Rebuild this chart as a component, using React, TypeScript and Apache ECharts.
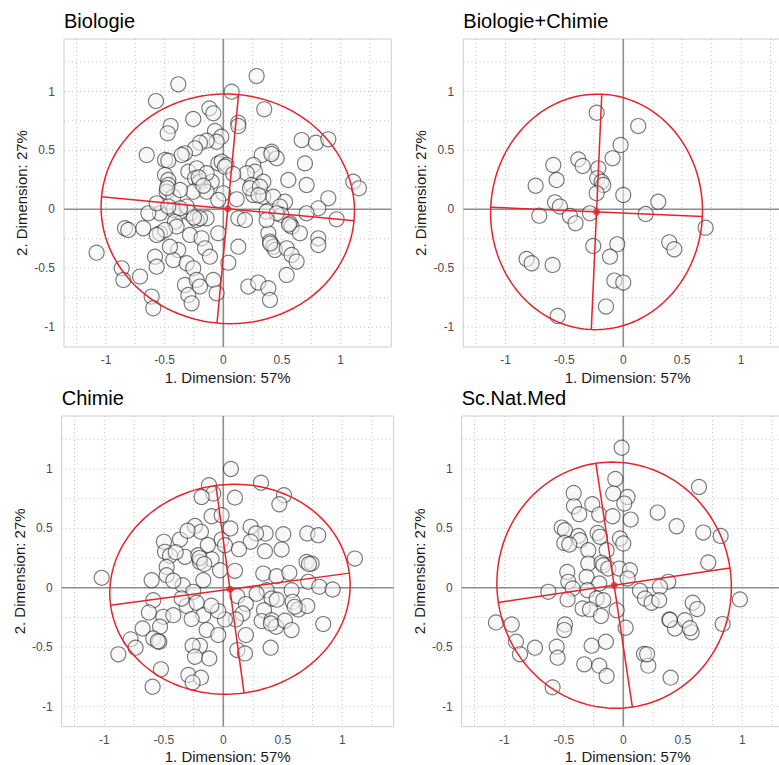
import React, { useEffect, useRef } from "react";
import * as echarts from "echarts";

// Shared axis ranges of the four facets
const X_MIN = -1.358;
const X_MAX = 1.432;
const Y_MIN = -1.169;
const Y_MAX = 1.446;

// Labelled ticks and dotted guide positions
const TICK_VALUES = [-1, -0.5, 0, 0.5, 1];
const GUIDE_VALUES = [-1.25, -1, -0.75, -0.5, -0.25, 0.25, 0.5, 0.75, 1, 1.25];

const PANEL_TITLES = ["Biologie", "Biologie+Chimie", "Chimie", "Sc.Nat.Med"];
const X_TITLE = "1. Dimension: 57%";
const Y_TITLE = "2. Dimension: 27%";

// Individual scores on dimensions 1 and 2
const biologiePoints: [number, number][] = [
  [0.284, 1.131], [-0.384, 1.061], [0.071, 0.999], [-0.574, 0.919], [0.349, 0.849], [-0.119, 0.857],
  [-0.085, 0.815], [-0.256, 0.767], [0.128, 0.736], [0.128, 0.707], [-0.449, 0.707], [-0.474, 0.645],
  [-0.071, 0.665], [-0.017, 0.617], [-0.057, 0.574], [-0.142, 0.583], [-0.199, 0.566], [-0.241, 0.518],
  [-0.327, 0.475], [-0.355, 0.461], [-0.653, 0.461], [-0.497, 0.419], [-0.469, 0.413], [0.668, 0.588],
  [0.79, 0.566], [0.895, 0.594], [0.412, 0.489], [0.327, 0.461], [0.455, 0.433], [0.696, 0.39],
  [-0.043, 0.39], [-0.014, 0.404], [0.028, 0.376], [0.014, 0.362], [0.256, 0.376], [0.27, 0.32],
  [0.199, 0.306], [0.085, 0.3], [-0.298, 0.32], [-0.227, 0.348], [-0.497, 0.291], [-0.469, 0.249],
  [-0.241, 0.263], [-0.199, 0.235], [-0.099, 0.235], [0.554, 0.249], [0.71, 0.207], [1.108, 0.235],
  [1.156, 0.178], [0.341, 0.235], [0.241, 0.207], [-0.469, 0.207], [-0.483, 0.15], [-0.426, 0.107],
  [-0.256, 0.15], [-0.142, 0.15], [0.0, 0.136], [-0.043, 0.079], [0.114, 0.085], [0.256, 0.122],
  [0.341, 0.107], [0.426, 0.107], [0.526, 0.065], [0.895, 0.093], [0.81, 0.008], [0.71, -0.034],
  [0.966, -0.085], [0.483, 0.023], [0.369, -0.02], [0.497, -0.048], [0.568, -0.119], [0.582, -0.147],
  [0.653, -0.204], [0.81, -0.246], [0.81, -0.303], [0.384, -0.204], [0.398, -0.274], [0.426, -0.317],
  [0.44, -0.345], [0.54, -0.331], [0.582, -0.388], [0.625, -0.444], [0.54, -0.557], [0.128, -0.076],
  [0.185, -0.091], [0.128, -0.317], [0.043, -0.453], [-0.043, -0.204], [-0.142, -0.076], [-0.227, -0.091],
  [-0.284, -0.034], [-0.369, -0.02], [-0.426, -0.006], [-0.54, -0.034], [-0.639, -0.034], [-0.412, -0.105],
  [-0.398, -0.147], [-0.54, -0.204], [-0.682, -0.161], [-0.838, -0.161], [-0.81, -0.175], [-0.284, -0.218],
  [-0.185, -0.246], [-0.156, -0.331], [-0.114, -0.402], [-0.384, -0.345], [-0.426, -0.43], [-0.582, -0.402],
  [-0.568, -0.487], [-0.312, -0.458], [-0.256, -0.501], [-1.08, -0.368], [-0.866, -0.501], [-0.852, -0.6],
  [-0.71, -0.571], [-0.611, -0.741], [-0.597, -0.84], [-0.327, -0.642], [-0.298, -0.727], [-0.27, -0.798],
  [-0.227, -0.6], [-0.199, -0.656], [-0.085, -0.6], [-0.057, -0.713], [0.213, -0.656], [0.298, -0.622],
  [0.384, -0.67], [0.398, -0.769], [-0.142, 0.306], [-0.369, 0.164], [-0.312, 0.023], [-0.199, -0.076],
  [0.227, 0.178], [0.312, 0.192], [0.455, -0.034], [0.369, -0.091], [-0.568, 0.051], [-0.497, -0.175],
  [-0.455, -0.317], [-0.369, 0.008], [-0.469, 0.023], [-0.568, -0.218], [-0.21, 0.27], [-0.17, 0.2],
  [0.41, 0.47], [0.56, -0.13], [0.4, -0.29], [-0.25, -0.07], [-0.48, 0.18], [0.3, 0.12],
];

const biologieChimiePoints: [number, number][] = [
  [-0.226, 0.82], [0.127, 0.707], [-0.023, 0.546], [-0.091, 0.433], [-0.382, 0.424], [-0.345, 0.368],
  [-0.594, 0.376], [-0.212, 0.348], [-0.566, 0.249], [-0.221, 0.263], [-0.184, 0.235], [-0.17, 0.207],
  [-0.226, 0.136], [0.0, 0.122], [-0.744, 0.201], [-0.58, 0.059], [-0.538, 0.023], [-0.713, -0.054],
  [-0.453, -0.057], [-0.405, -0.119], [-0.283, -0.034], [0.297, 0.065], [0.19, -0.04], [0.699, -0.156],
  [0.39, -0.28], [0.433, -0.339], [-0.255, -0.311], [-0.051, -0.297], [-0.113, -0.402], [-0.821, -0.421],
  [-0.778, -0.458], [-0.6, -0.472], [-0.076, -0.605], [0.0, -0.622], [-0.147, -0.826], [-0.557, -0.905],
];

const chimiePoints: [number, number][] = [
  [0.064, 1.0], [0.317, 0.885], [-0.12, 0.863], [-0.084, 0.793], [-0.182, 0.765], [0.098, 0.759],
  [0.51, 0.779], [0.471, 0.703], [-0.098, 0.602], [-0.014, 0.611], [-0.238, 0.521], [-0.188, 0.471],
  [0.23, 0.513], [0.356, 0.457], [0.275, 0.457], [0.504, 0.451], [0.706, 0.457], [0.798, 0.443],
  [0.23, 0.387], [-0.014, 0.406], [0.014, 0.359], [0.132, 0.325], [0.35, 0.308], [0.49, 0.322],
  [-0.499, 0.387], [-0.364, 0.406], [-0.49, 0.303], [-0.448, 0.269], [-0.322, 0.261], [-0.21, 0.275],
  [-0.098, 0.241], [-0.196, 0.218], [0.7, 0.218], [0.742, 0.204], [1.106, 0.246], [-0.476, 0.176],
  [-0.476, 0.106], [-0.602, 0.064], [-1.022, 0.084], [-0.028, 0.148], [0.098, 0.143], [-0.168, 0.064],
  [-0.342, 0.022], [-0.252, -0.034], [0.336, 0.12], [0.448, 0.098], [0.555, 0.126], [0.714, 0.05],
  [0.807, 0.008], [0.919, -0.014], [0.364, -0.02], [0.406, -0.09], [0.574, -0.02], [0.583, -0.118],
  [0.63, -0.182], [0.706, -0.154], [0.84, -0.305], [0.118, -0.07], [0.19, -0.137], [0.162, -0.216],
  [0.106, -0.266], [0.014, -0.266], [-0.042, -0.196], [-0.588, -0.104], [-0.625, -0.207], [-0.308, -0.154],
  [-0.224, -0.126], [-0.168, -0.23], [-0.266, -0.263], [-0.504, -0.244], [-0.42, -0.23], [-0.532, -0.328],
  [-0.678, -0.342], [-0.588, -0.426], [-0.538, -0.454], [-0.779, -0.434], [-0.737, -0.504], [-0.882, -0.56],
  [-0.14, -0.356], [-0.042, -0.398], [-0.196, -0.487], [-0.258, -0.487], [-0.238, -0.58], [-0.118, -0.594],
  [0.118, -0.524], [0.182, -0.552], [0.19, -0.398], [0.342, -0.188], [0.322, -0.28], [0.406, -0.272],
  [0.443, -0.328], [0.518, -0.277], [0.574, -0.356], [0.398, -0.504], [-0.524, -0.686], [-0.594, -0.832],
  [-0.294, -0.734], [-0.188, -0.756], [-0.258, -0.798], [-0.42, 0.06], [-0.35, -0.09], [-0.13, 0.36],
  [0.06, 0.5], [-0.3, 0.48], [0.45, -0.1], [-0.1, -0.15], [0.28, -0.05], [-0.2, 0.25],
  [-0.16, 0.2], [0.72, 0.2], [0.4, -0.3], [-0.55, -0.45], [-0.4, 0.3], [0.6, -0.16],
];

const scNatMedPoints: [number, number][] = [
  [-0.014, 1.179], [-0.067, 0.916], [0.636, 0.849], [-0.417, 0.798], [-0.084, 0.793], [0.036, 0.765],
  [0.008, 0.709], [-0.261, 0.703], [-0.415, 0.686], [-0.37, 0.619], [-0.202, 0.616], [-0.09, 0.602],
  [0.062, 0.574], [0.289, 0.633], [0.448, 0.518], [0.672, 0.465], [0.818, 0.437], [-0.518, 0.507],
  [-0.49, 0.485], [-0.216, 0.462], [-0.196, 0.429], [-0.378, 0.437], [-0.364, 0.401], [-0.496, 0.378],
  [-0.454, 0.364], [-0.028, 0.415], [0.0, 0.373], [-0.294, 0.317], [-0.14, 0.317], [-0.294, 0.204],
  [-0.182, 0.21], [-0.168, 0.19], [-0.126, 0.162], [-0.034, 0.162], [0.056, 0.148], [0.036, 0.078],
  [0.714, 0.213], [-0.471, 0.134], [-0.308, 0.092], [-0.462, 0.05], [-0.426, -0.006], [-0.202, 0.036],
  [-0.63, -0.034], [-0.3, -0.02], [0.378, 0.05], [0.308, 0.008], [0.14, -0.025], [0.182, -0.09],
  [0.238, -0.126], [0.302, -0.104], [-0.468, -0.098], [-0.224, -0.09], [-0.168, -0.104], [-0.056, -0.188],
  [-0.342, -0.174], [-0.28, -0.182], [-0.188, -0.238], [0.583, -0.126], [0.622, -0.179], [0.98, -0.098],
  [0.835, -0.305], [0.387, -0.266], [0.434, -0.342], [0.518, -0.272], [0.574, -0.375], [0.02, -0.336],
  [-0.49, -0.308], [-0.496, -0.356], [-1.07, -0.291], [-0.938, -0.308], [-0.902, -0.454], [-0.868, -0.56],
  [-0.742, -0.504], [-0.56, -0.496], [-0.552, -0.588], [-0.266, -0.487], [-0.146, -0.454], [-0.328, -0.644],
  [-0.202, -0.655], [-0.14, -0.742], [0.174, -0.557], [0.21, -0.655], [0.398, -0.756], [-0.594, -0.838],
  [0.392, -0.27], [0.56, -0.34], [0.2, -0.56],
];

// Concentration ellipses: centre, half-axis along the angle, half-axis across it, angle in degrees
const ellipseCenters: [number, number][] = [[0.038, 0.004], [-0.227, -0.022], [0.056, -0.012], [-0.077, 0.022]];
const ellipseAlong = [1.081, 0.899, 1.012, 0.984];
const ellipseAcross = [0.974, 1.0, 0.881, 1.037];
const ellipseAngles = [-5.4, -2.55, 7.7, 8.5];

const PANEL_POINTS = [biologiePoints, biologieChimiePoints, chimiePoints, scNatMedPoints];

const LAYOUT = [
  { left: 64, top: 39, width: 327.3, height: 308 },
  { left: 463.3, top: 39, width: 328.7, height: 308 },
  { left: 61.7, top: 416, width: 332, height: 310.7 },
  { left: 461.7, top: 416, width: 332, height: 310.7 },
];

const FONT = "'Liberation Sans', Arial, Helvetica, sans-serif";
const RED = "#e8222b";

function ellipsePath(i: number): [number, number][] {
  const [cx, cy] = ellipseCenters[i];
  const a = ellipseAlong[i];
  const b = ellipseAcross[i];
  const th = (ellipseAngles[i] * Math.PI) / 180;
  const pts: [number, number][] = [];
  const n = 180;
  for (let k = 0; k <= n; k++) {
    const t = (k / n) * Math.PI * 2;
    const u = a * Math.cos(t);
    const v = b * Math.sin(t);
    pts.push([cx + u * Math.cos(th) - v * Math.sin(th), cy + u * Math.sin(th) + v * Math.cos(th)]);
  }
  return pts;
}

function ellipseAxes(i: number): [number, number][][] {
  const [cx, cy] = ellipseCenters[i];
  const a = ellipseAlong[i];
  const b = ellipseAcross[i];
  const th = (ellipseAngles[i] * Math.PI) / 180;
  const c = Math.cos(th);
  const s = Math.sin(th);
  return [
    [[cx - a * c, cy - a * s], [cx + a * c, cy + a * s]],
    [[cx + b * s, cy - b * c], [cx - b * s, cy + b * c]],
  ];
}

// Guide lines: [position, orientation (0 vertical, 1 horizontal), kind (0 dotted, 1 zero line)]
const guideData: number[][] = [
  ...GUIDE_VALUES.filter((v) => v > X_MIN && v < X_MAX).map((v) => [v, 0, 0]),
  ...GUIDE_VALUES.filter((v) => v > Y_MIN && v < Y_MAX).map((v) => [v, 1, 0]),
  [0, 0, 1],
  [0, 1, 1],
];

function renderGuide(params: any, api: any) {
  const pos = api.value(0);
  const horizontal = api.value(1) === 1;
  const zero = api.value(2) === 1;
  const cs = params.coordSys;
  const style = zero
    ? { stroke: "#8d8d8d", lineWidth: 1.6 }
    : { stroke: "#c2c2c2", lineWidth: 1, lineDash: [1, 3] };
  if (horizontal) {
    const p = api.coord([0, pos]);
    return {
      type: "line",
      shape: { x1: cs.x, y1: p[1], x2: cs.x + cs.width, y2: p[1] },
      style,
    };
  }
  const p = api.coord([pos, 0]);
  return {
    type: "line",
    shape: { x1: p[0], y1: cs.y, x2: p[0], y2: cs.y + cs.height },
    style,
  };
}

const fmt = (v: number) => String(v);

export default function App() {
  const ref = useRef<HTMLDivElement>(null);

  useEffect(() => {
    if (!ref.current) return;
    const chart = echarts.init(ref.current, undefined, { renderer: "svg" });

    const series: any[] = [];
    const graphic: any[] = [];

    LAYOUT.forEach((g, i) => {
      series.push({
        type: "custom",
        xAxisIndex: i,
        yAxisIndex: i,
        z: 1,
        silent: true,
        clip: true,
        data: guideData,
        encode: { x: 0, y: 1 },
        renderItem: renderGuide,
      });
      series.push({
        type: "scatter",
        xAxisIndex: i,
        yAxisIndex: i,
        z: 3,
        symbol: "circle",
        symbolSize: 15,
        data: PANEL_POINTS[i],
        itemStyle: {
          color: "rgba(243,243,243,0.7)",
          borderColor: "rgba(25,25,25,0.72)",
          borderWidth: 1.15,
        },
        emphasis: { disabled: true },
      });
      series.push({
        type: "line",
        xAxisIndex: i,
        yAxisIndex: i,
        z: 4,
        silent: true,
        symbol: "none",
        data: ellipsePath(i),
        lineStyle: { color: RED, width: 1.5 },
      });
      ellipseAxes(i).forEach((seg) => {
        series.push({
          type: "line",
          xAxisIndex: i,
          yAxisIndex: i,
          z: 4,
          silent: true,
          symbol: "none",
          data: seg,
          lineStyle: { color: RED, width: 1.5 },
        });
      });
      series.push({
        type: "scatter",
        xAxisIndex: i,
        yAxisIndex: i,
        z: 5,
        symbolSize: 7,
        data: [ellipseCenters[i]],
        itemStyle: { color: RED },
        emphasis: { disabled: true },
      });

      graphic.push({
        type: "text",
        x: g.left,
        y: g.top - 18,
        style: {
          text: PANEL_TITLES[i],
          fontFamily: FONT,
          fontSize: 20,
          fill: "#000000",
          textAlign: "left",
          textVerticalAlign: "middle",
        },
      });
      graphic.push({
        type: "text",
        x: g.left + g.width / 2,
        y: g.top + g.height + 30,
        style: {
          text: X_TITLE,
          fontFamily: FONT,
          fontSize: 15,
          fill: "#1a1a1a",
          textAlign: "center",
          textVerticalAlign: "middle",
        },
      });
      graphic.push({
        type: "text",
        x: g.left - 42.5,
        y: g.top + g.height / 2,
        rotation: Math.PI / 2,
        style: {
          text: Y_TITLE,
          fontFamily: FONT,
          fontSize: 15,
          fill: "#1a1a1a",
          textAlign: "center",
          textVerticalAlign: "middle",
        },
      });
    });

    const option: any = {
      animation: false,
      backgroundColor: "#ffffff",
      textStyle: { fontFamily: FONT },
      grid: LAYOUT.map((g) => ({
        left: g.left,
        top: g.top,
        width: g.width,
        height: g.height,
        show: true,
        backgroundColor: "transparent",
        borderColor: "#cdcdcd",
        borderWidth: 1,
      })),
      xAxis: LAYOUT.map((_, i) => ({
        type: "value",
        gridIndex: i,
        min: X_MIN,
        max: X_MAX,
        axisLine: { show: false },
        axisTick: { show: false },
        splitLine: { show: false },
        axisLabel: {
          customValues: TICK_VALUES,
          formatter: fmt,
          color: "#4d4d4d",
          fontSize: 12,
          fontFamily: FONT,
          margin: 7,
        },
      })),
      yAxis: LAYOUT.map((_, i) => ({
        type: "value",
        gridIndex: i,
        min: Y_MIN,
        max: Y_MAX,
        axisLine: { show: false },
        axisTick: { show: false },
        splitLine: { show: false },
        axisLabel: {
          customValues: TICK_VALUES,
          formatter: fmt,
          color: "#4d4d4d",
          fontSize: 12,
          fontFamily: FONT,
          margin: 9,
        },
      })),
      series,
      graphic,
    };

    chart.setOption(option);
    return () => chart.dispose();
  }, []);

  return (
    <div
      style={{
        position: "fixed",
        left: 0,
        top: 0,
        width: 779,
        height: 765,
        overflow: "hidden",
        background: "#ffffff",
      }}
    >
      <div ref={ref} style={{ width: 800, height: 765 }} />
    </div>
  );
}
